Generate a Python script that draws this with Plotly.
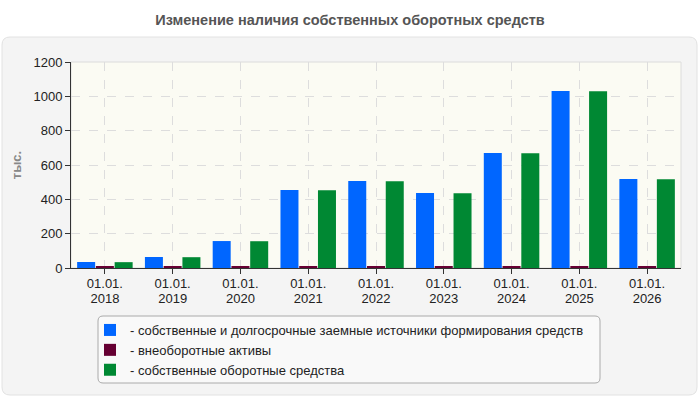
import plotly.graph_objects as go

dates = ["01.01.2018", "01.01.2019", "01.01.2020", "01.01.2021", "01.01.2022",
         "01.01.2023", "01.01.2024", "01.01.2025", "01.01.2026"]
sources = [35, 64, 157, 454, 507, 437, 670, 1031, 518]
noncurrent = [6, 6, 6, 6, 6, 6, 6, 6, 6]
working_capital = [34, 63, 156, 453, 506, 436, 669, 1030, 517]

names = ["- собственные и долгосрочные заемные источники формирования средств",
         "- внеоборотные активы",
         "- собственные оборотные средства"]
colors = ["#0066ff", "#660033", "#008833"]

# plot area in pixels (for layout helpers)
L, R, T, B = 71, 681, 62, 268
W, H = R - L, B - T


def px(x):
    return (x - L) / W


def py(y):
    return (B - y) / H


def rounded(x0, y0, x1, y1, r):
    rx, ry = r / W, r / H
    a, b, c, d = px(x0), py(y0), px(x1), py(y1)
    return (f"M {a+rx},{b} L {c-rx},{b} Q {c},{b} {c},{b-ry} L {c},{d+ry} Q {c},{d} {c-rx},{d} "
            f"L {a+rx},{d} Q {a},{d} {a},{d+ry} L {a},{b-ry} Q {a},{b} {a+rx},{b} Z")


fig = go.Figure()
for name, vals, col in zip(names, [sources, noncurrent, working_capital], colors):
    fig.add_trace(go.Bar(x=dates, y=vals, name=name, marker_color=col, marker_line_width=0))
# empty trace so the year axis gets drawn
fig.add_trace(go.Scatter(x=dates, y=sources, xaxis="x2", mode="none",
                         showlegend=False, hoverinfo="skip"))

fig.update_layout(
    width=700, height=400,
    margin=dict(l=L, r=700 - R, t=T, b=400 - B, autoexpand=False),
    paper_bgcolor="white",
    plot_bgcolor="#fbfbf3",
    font=dict(family="Liberation Sans, Arial", size=13, color="#222"),
    title=dict(text="<b>Изменение наличия собственных оборотных средств</b>",
               x=0.5, xref="container", xanchor="center", yref="container", y=1 - 20 / 400,
               yanchor="middle", font=dict(size=14.5, color="#555")),
    barmode="group", bargap=0.17, bargroupgap=0.04,
    showlegend=True,
    legend=dict(orientation="v", x=px(90), xanchor="left", y=py(315), yanchor="top",
                bgcolor="rgba(0,0,0,0)", borderwidth=0, font=dict(size=13, color="#222"),
                tracegroupgap=0, itemwidth=30),
    shapes=[
        dict(type="path", xref="paper", yref="paper", path=rounded(2, 37, 697, 395, 8),
             fillcolor="#f4f4f4", line=dict(color="#e2e2e2", width=1), layer="below"),
        dict(type="rect", xref="paper", yref="paper", x0=0, y0=0, x1=1, y1=1,
             fillcolor="#fbfbf3", line=dict(color="#dcdcdc", width=1), layer="below"),
        dict(type="path", xref="paper", yref="paper", path=rounded(98, 316, 600, 383, 5),
             fillcolor="#f9f9f9", line=dict(color="#aaaaaa", width=1), layer="below"),
    ],
)

# day/month on the main axis, year on a second axis just below it
fig.update_layout(
    xaxis=dict(showline=True, linecolor="#333", linewidth=1, automargin=False,
               ticks="outside", ticklen=5, tickcolor="#333",
               range=[-0.5, len(dates) - 0.5], ticklabelstandoff=-2,
               tickvals=dates, ticktext=[d[:6] for d in dates],
               showgrid=True, gridcolor="#dddddd", griddash="dash",
               tickfont=dict(size=13, color="#222")),
    xaxis2=dict(overlaying="x", anchor="y", side="bottom", type="category",
                range=[-0.5, len(dates) - 0.5], automargin=False,
                tickvals=dates, ticktext=[d[6:] for d in dates],
                ticks="outside", ticklen=5, tickcolor="rgba(0,0,0,0)",
                ticklabelstandoff=13, showgrid=False, showline=False, zeroline=False,
                tickfont=dict(size=13, color="#222")),
)
fig.update_yaxes(range=[0, 1200], dtick=200, showline=True, linecolor="#333", linewidth=1,
                 ticks="outside", ticklen=5, tickcolor="#333", automargin=False,
                 showgrid=True, gridcolor="#dddddd", griddash="dash", zeroline=False,
                 tickfont=dict(size=13, color="#222"),
                 title=dict(text="<b>тыс.</b>", font=dict(size=13, color="#888"), standoff=8))

fig.write_html("out.html", config={"displayModeBar": False},
               post_script="document.body.style.margin='0';")
